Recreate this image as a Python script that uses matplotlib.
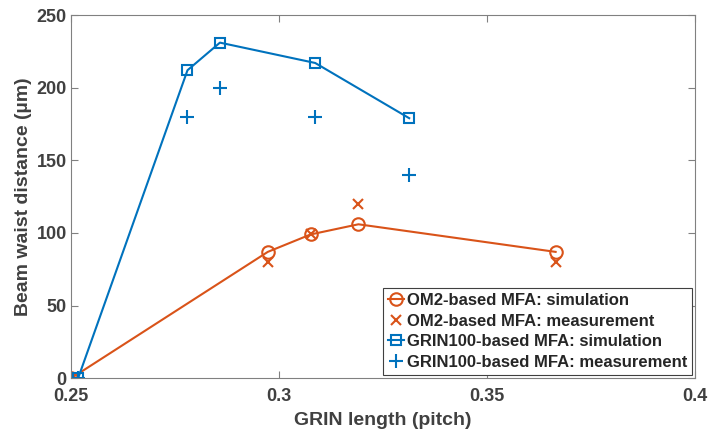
import matplotlib
matplotlib.use("Agg")
import matplotlib.pyplot as plt

# Data
om2_x = [0.25, 0.2973, 0.3076, 0.3191, 0.3665]
om2_sim = [0, 87, 99, 106, 87]
om2_meas = [0, 80, 99, 120, 80]
grin_x = [0.2517, 0.2780, 0.2858, 0.3087, 0.3313]
grin_sim = [0, 212, 231, 217, 179]
grin_meas = [0, 180, 200, 180, 140]

x_ticks = [0.25, 0.3, 0.35, 0.4]
x_tick_labels = ["0.25", "0.3", "0.35", "0.4"]
y_ticks = [0, 50, 100, 150, 200, 250]

blue = "#0072BD"
orange = "#D95319"
txt = "#404040"

plt.rcParams['font.family'] = ['Liberation Sans', 'DejaVu Sans']
plt.rcParams['font.weight'] = 'bold'

fig = plt.figure(figsize=(7.08, 4.34), dpi=100)
ax = fig.add_axes([0.1003, 0.1283, 0.8813, 0.8371])

ax.plot(om2_x, om2_sim, '-o', color=orange, lw=1.5, ms=9, mfc='none', mew=1.5,
        label="OM2-based MFA: simulation")
ax.plot(om2_x, om2_meas, 'x', color=orange, ms=7, mew=1.5,
        label="OM2-based MFA: measurement")
ax.plot(grin_x, grin_sim, '-s', color=blue, lw=1.5, ms=7, mfc='none', mew=1.5,
        label="GRIN100-based MFA: simulation")
ax.plot(grin_x, grin_meas, '+', color=blue, ms=10, mew=1.5,
        label="GRIN100-based MFA: measurement")

ax.set_xlim(0.25, 0.4)
ax.set_ylim(0, 250)
ax.set_xticks(x_ticks)
ax.set_xticklabels(x_tick_labels)
ax.set_yticks(y_ticks)

for s in ax.spines.values():
    s.set_color("#808080")
    s.set_linewidth(0.8)
ax.tick_params(direction='in', top=True, right=True, length=5, width=0.8,
               color="#808080", labelsize=13, labelcolor=txt, pad=3)
ax.tick_params(axis='x', pad=7)
for lab in ax.get_xticklabels() + ax.get_yticklabels():
    lab.set_fontweight('bold')

ax.set_xlabel("GRIN length (pitch)", fontsize=14, fontweight='bold', color=txt, labelpad=5)
ax.set_ylabel("Beam waist distance (\u00b5m)", fontsize=14, fontweight='bold', color=txt, labelpad=3)

leg = ax.legend(loc='lower right', bbox_to_anchor=(0.9955, 0.01), fontsize=12,
                frameon=True, fancybox=False, edgecolor="#404040", framealpha=1,
                handlelength=1.0, handletextpad=0.15, borderpad=0.3, labelspacing=0.33,
                borderaxespad=0.0)
leg.get_frame().set_linewidth(0.8)
for t in leg.get_texts():
    t.set_fontweight('bold')
    t.set_color("#262626")

fig.savefig("out.png", dpi=100)
